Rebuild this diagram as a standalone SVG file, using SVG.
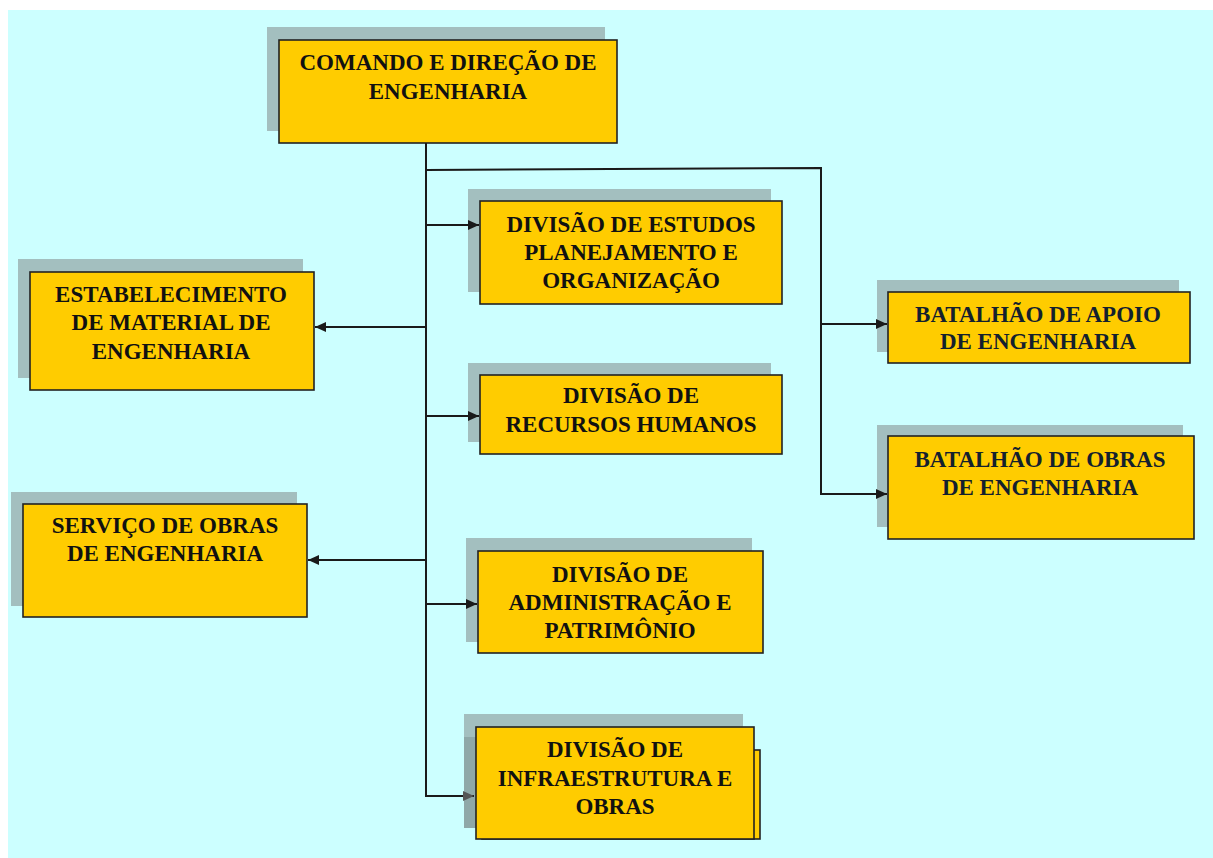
<svg xmlns="http://www.w3.org/2000/svg" width="1213" height="858" viewBox="0 0 1213 858">
<style>
.bg{fill:#CCFFFF}
.sh{fill:#A3BFBF}
.box{fill:#FFCC00;stroke:#222;stroke-width:1.6}
.t{font-family:"Liberation Serif","Times New Roman",serif;font-weight:bold;font-size:23px;fill:#111;text-anchor:middle}
.tb{fill:#13202e}
.ln{fill:none;stroke:#1a1a1a;stroke-width:2}
</style>
<defs>
<marker id="ah" markerUnits="userSpaceOnUse" markerWidth="12" markerHeight="10" refX="11" refY="5" orient="auto">
<path d="M0,0 L11,5 L0,10 Z" fill="#1a1a1a"/>
</marker>
<marker id="ahg" markerUnits="userSpaceOnUse" markerWidth="12" markerHeight="10" refX="11" refY="5" orient="auto">
<path d="M0,0 L11,5 L0,10 Z" fill="#555"/>
</marker>
</defs>
<rect class="bg" x="8" y="10" width="1205" height="848"/>

<g id="comando">
<rect class="sh" x="267" y="27" width="338" height="104"/>
<rect class="box" x="279" y="40" width="338" height="103"/>
<text class="t" x="448" y="70">COMANDO E DIREÇÃO DE</text>
<text class="t" x="448" y="99">ENGENHARIA</text>
</g>

<g id="estudos">
<rect class="sh" x="468" y="189" width="303" height="103"/>
<rect class="box" x="480" y="201" width="302" height="103"/>
<text class="t" x="631" y="232">DIVISÃO DE ESTUDOS</text>
<text class="t" x="631" y="260">PLANEJAMENTO E</text>
<text class="t" x="631" y="288">ORGANIZAÇÃO</text>
</g>

<g id="estabelecimento">
<rect class="sh" x="18" y="259" width="285" height="119"/>
<rect class="box" x="30" y="272" width="284" height="118"/>
<text class="t" x="171" y="302">ESTABELECIMENTO</text>
<text class="t" x="171" y="330">DE MATERIAL DE</text>
<text class="t" x="171" y="359">ENGENHARIA</text>
</g>

<g id="recursos">
<rect class="sh" x="468" y="363" width="303" height="79"/>
<rect class="box" x="480" y="375" width="302" height="79"/>
<text class="t" x="631" y="403">DIVISÃO DE</text>
<text class="t" x="631" y="432">RECURSOS HUMANOS</text>
</g>

<g id="servico">
<rect class="sh" x="11" y="492" width="286" height="114"/>
<rect class="box" x="23" y="504" width="284" height="113"/>
<text class="t" x="165" y="533">SERVIÇO DE OBRAS</text>
<text class="t" x="165" y="561">DE ENGENHARIA</text>
</g>

<g id="administracao">
<rect class="sh" x="466" y="538" width="286" height="104"/>
<rect class="box" x="478" y="551" width="285" height="102"/>
<text class="t" x="620" y="582">DIVISÃO DE</text>
<text class="t" x="620" y="610">ADMINISTRAÇÃO E</text>
<text class="t" x="620" y="638">PATRIMÔNIO</text>
</g>

<g id="infraestrutura">
<rect class="sh" x="464" y="714" width="279" height="114"/>
<rect x="464" y="737" width="16" height="91" fill="#8FA8A8"/>
<rect class="box" x="482" y="750" width="278" height="89"/>
<rect class="box" x="476" y="727" width="278" height="112"/>
<text class="t" x="615" y="757">DIVISÃO DE</text>
<text class="t" x="615" y="786">INFRAESTRUTURA E</text>
<text class="t" x="615" y="814">OBRAS</text>
</g>

<g id="batalhao-apoio">
<rect class="sh" x="877" y="280" width="302" height="72"/>
<rect class="box" x="888" y="292" width="302" height="71"/>
<text class="t tb" x="1038" y="322">BATALHÃO DE APOIO</text>
<text class="t tb" x="1038" y="349">DE ENGENHARIA</text>
</g>

<g id="batalhao-obras">
<rect class="sh" x="877" y="425" width="306" height="102"/>
<rect class="box" x="888" y="436" width="306" height="103"/>
<text class="t tb" x="1040" y="467">BATALHÃO DE OBRAS</text>
<text class="t tb" x="1040" y="495">DE ENGENHARIA</text>
</g>

<g id="connectors">
<polyline class="ln" points="426,143 426,796 474,796" stroke="#444" marker-end="url(#ahg)"/>
<polyline class="ln" points="426,170 821,168 821,494 887,494" marker-end="url(#ah)"/>
<path class="ln" d="M426,225 H479" marker-end="url(#ah)"/>
<path class="ln" d="M426,327 H315" marker-end="url(#ah)"/>
<path class="ln" d="M426,416 H479" marker-end="url(#ah)"/>
<path class="ln" d="M426,604 H477" marker-end="url(#ah)"/>
<path class="ln" d="M426,560 H308" marker-end="url(#ah)"/>
<path class="ln" d="M821,324 H887" marker-end="url(#ah)"/>
</g>
</svg>
